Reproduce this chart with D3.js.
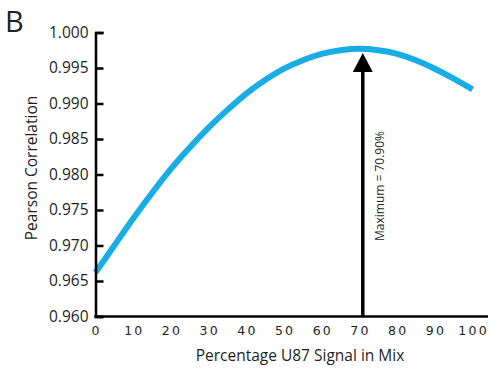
<!DOCTYPE html>
<html>
<head>
<meta charset="utf-8">
<script src="https://cdn.jsdelivr.net/npm/d3@7"></script>
<style>
  body { margin: 0; background: #fff; }
  text { font-family: "Open Sans", sans-serif; fill: #231f20; }
  .xt { font-family: "DejaVu Sans", sans-serif; font-size: 12.5px; letter-spacing: 2.2px; }
</style>
</head>
<body>
<svg id="chart" width="490" height="368"></svg>
<script>
const pct = [0, 5, 10, 15, 20, 25, 30, 35, 40, 45, 50, 55, 60, 65, 70, 75, 80, 85, 90, 95, 100]
const corr = [0.9662, 0.9700, 0.9738, 0.9774, 0.9808, 0.9838, 0.9866, 0.9891, 0.9914, 0.9933,
  0.9949, 0.9961, 0.9970, 0.9975, 0.9977, 0.9975, 0.9970, 0.9961, 0.9949, 0.9935, 0.9920]
const xTicks = [0, 10, 20, 30, 40, 50, 60, 70, 80, 90, 100]
const yTicks = [0.960, 0.965, 0.970, 0.975, 0.980, 0.985, 0.990, 0.995, 1.000]
const maxAt = 70.9

let svg = d3.select('#chart')
let x = d3.scaleLinear().domain([0, 100]).range([95.5, 472.5])
let y = d3.scaleLinear().domain([0.960, 1.000]).range([316.5, 32.5])
let form = d3.format('.3f')

// panel letter
svg.append('text')
  .attr('x', 5).attr('y', 32)
  .style('font-size', '29px')
  .text('B')

// curve
svg.append('path')
  .datum(pct.map((p, i) => [p, corr[i]]))
  .attr('fill', 'none')
  .attr('stroke', '#19ade6')
  .attr('stroke-width', 6)
  .attr('d', d3.line().x(d => x(d[0])).y(d => y(d[1])).curve(d3.curveNatural))

// y axis, ticks pointing inward
let ya = svg.append('g')
  .attr('transform', `translate(${x(0)},0)`)
  .call(d3.axisRight(y).tickValues(yTicks).tickFormat(form).tickSize(8).tickSizeOuter(8))
ya.selectAll('path, line').attr('stroke', '#000').attr('stroke-width', 2.5)
ya.selectAll('text')
  .attr('x', -7)
  .attr('text-anchor', 'end')
  .style('font-family', '"Open Sans", sans-serif')
  .style('font-size', '15.5px')
  .attr('fill', '#231f20')

// x axis line and labels
svg.append('line')
  .attr('x1', x(0) - 1.2).attr('x2', 488)
  .attr('y1', y(0.960)).attr('y2', y(0.960))
  .attr('stroke', '#000').attr('stroke-width', 2.5)

svg.append('g')
  .selectAll('text')
  .data(xTicks)
  .enter()
  .append('text')
  .attr('class', 'xt')
  .attr('x', d => x(d) + 1.1)
  .attr('y', 335)
  .attr('text-anchor', 'middle')
  .text(d => d)

// axis titles
svg.append('text')
  .attr('x', 300).attr('y', 361)
  .attr('text-anchor', 'middle')
  .style('font-size', '15.5px')
  .text('Percentage U87 Signal in Mix')

svg.append('text')
  .attr('transform', 'translate(37,168) rotate(-90)')
  .attr('text-anchor', 'middle')
  .style('font-size', '15.5px')
  .text('Pearson Correlation')

// maximum arrow
let ax = x(maxAt)
svg.append('line')
  .attr('x1', ax).attr('x2', ax)
  .attr('y1', y(0.960)).attr('y2', 70)
  .attr('stroke', '#000').attr('stroke-width', 3.5)
svg.append('path')
  .attr('d', `M${ax},53 L${ax + 10},72 L${ax - 10},72 Z`)
  .attr('fill', '#000')

svg.append('text')
  .attr('transform', `translate(${ax + 21},186) rotate(-90)`)
  .attr('text-anchor', 'middle')
  .style('font-size', '12px')
  .text('Maximum = 70.90%')
</script>
</body>
</html>
